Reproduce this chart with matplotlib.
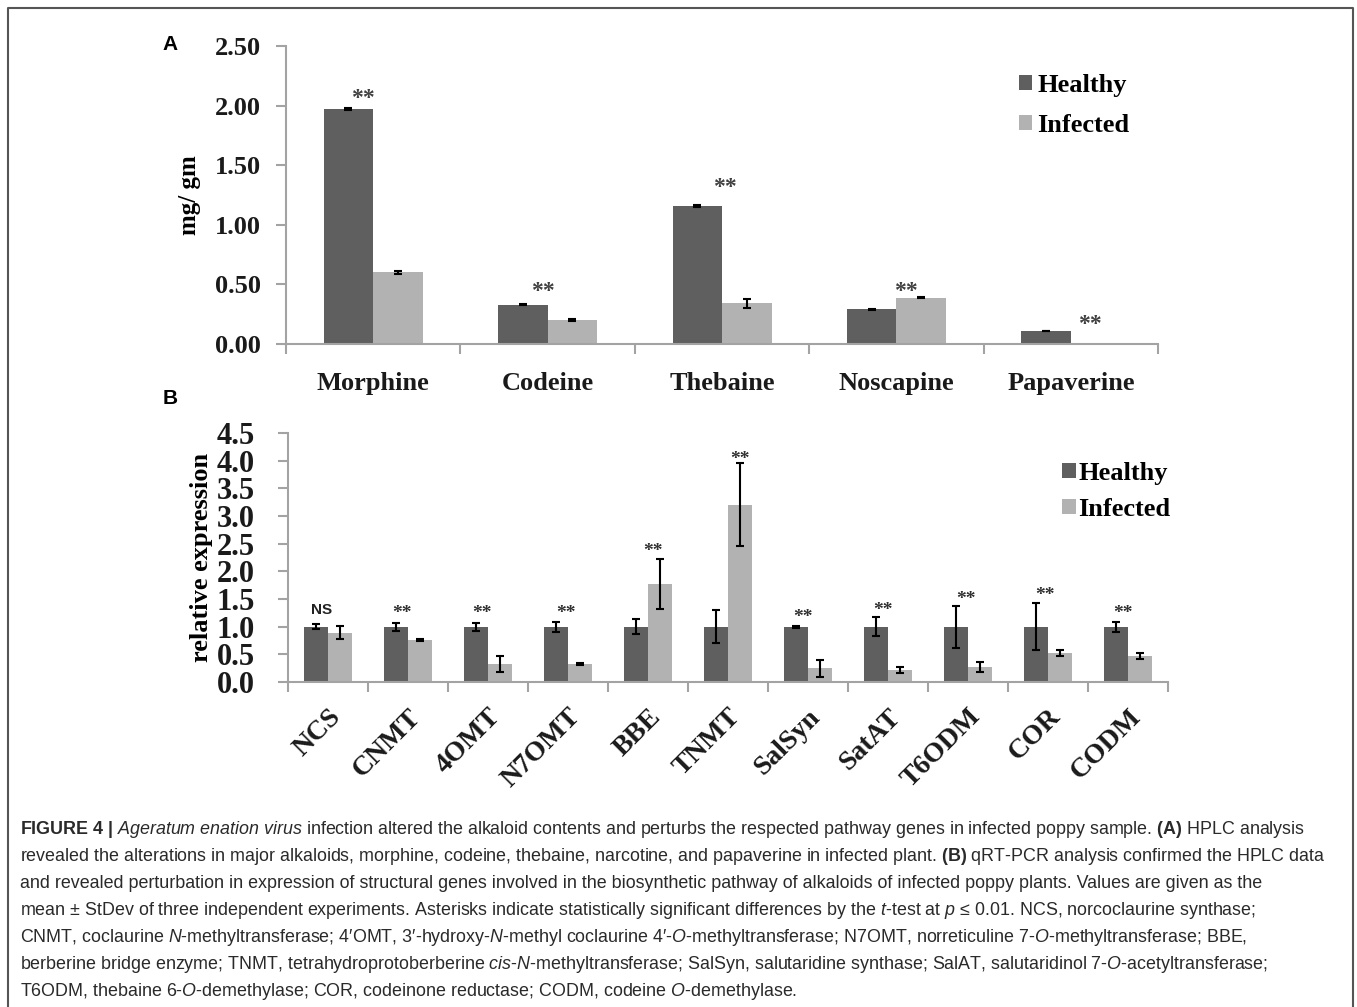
import matplotlib
matplotlib.use('Agg')
import matplotlib.pyplot as plt
import numpy as np
from matplotlib.lines import Line2D

plt.rcParams['mathtext.fontset'] = 'custom'
plt.rcParams['mathtext.rm'] = 'Liberation Sans'
plt.rcParams['mathtext.it'] = 'Liberation Sans:italic'
plt.rcParams['mathtext.bf'] = 'Liberation Sans:bold'

# Panel A data (HPLC, mg/gm)
alkaloids = ['Morphine', 'Codeine', 'Thebaine', 'Noscapine', 'Papaverine']
healthy_a = [1.97, 0.33, 1.16, 0.29, 0.11]
infected_a = [0.60, 0.20, 0.34, 0.39, 0.0]
healthy_a_err = [0.006, 0.003, 0.010, 0.004, 0.002]
infected_a_err = [0.012, 0.008, 0.035, 0.003, 0.0]
marks_a = ['**', '**', '**', '**', '**']

# Panel B data (qRT-PCR, relative expression)
genes = ['NCS', 'CNMT', '4OMT', 'N7OMT', 'BBE', 'TNMT', 'SalSyn', 'SatAT', 'T6ODM', 'COR', 'CODM']
healthy_b = [1.0, 1.0, 1.0, 1.0, 1.0, 1.0, 1.0, 1.0, 1.0, 1.0, 1.0]
healthy_b_err = [0.04, 0.07, 0.07, 0.09, 0.14, 0.30, 0.02, 0.17, 0.38, 0.42, 0.09]
infected_b = [0.89, 0.76, 0.33, 0.33, 1.77, 3.20, 0.25, 0.22, 0.27, 0.52, 0.47]
infected_b_err = [0.12, 0.01, 0.14, 0.02, 0.45, 0.75, 0.15, 0.05, 0.09, 0.05, 0.05]
marks_b = ['NS', '**', '**', '**', '**', '**', '**', '**', '**', '**', '**']

# annotation placement (layout only)
mark_a_dx = [-0.06, -0.03, 0.015, 0.055, 0.11]
mark_a_y = [2.06, 0.44, 1.31, 0.44, 0.16]
mark_b_dx = [-0.08, -0.07, -0.07, -0.03, 0.06, 0.15, -0.06, -0.06, -0.03, -0.04, -0.06]
mark_b_y = [1.30, 1.24, 1.24, 1.24, 2.36, 4.02, 1.16, 1.30, 1.50, 1.56, 1.24]

c_h = '#5f5f5f'
c_i = '#b2b2b2'
axis_c = '#a3a3a3'
serif = 'Liberation Serif'

fig = plt.figure(figsize=(13.57, 10.07), dpi=100)


def style_axes(ax, n, fs_tick, ypad):
    for s in ['top', 'right']:
        ax.spines[s].set_visible(False)
    for s in ['left', 'bottom']:
        ax.spines[s].set_color(axis_c)
        ax.spines[s].set_linewidth(1.5)
    ax.set_xlim(-0.5, n - 0.5)
    ax.set_xticks(np.arange(-0.5, n, 1), minor=True)
    ax.tick_params(axis='x', which='minor', length=7, width=1.5, color=axis_c, direction='out')
    ax.tick_params(axis='x', which='major', length=0)
    ax.tick_params(axis='y', length=7, width=1.5, color=axis_c, direction='out', pad=ypad)
    for lab in ax.get_yticklabels():
        lab.set_fontfamily(serif)
        lab.set_fontweight('bold')
        lab.set_fontsize(fs_tick)
        lab.set_color('#1a1a1a')


# ---------------- Panel A ----------------
axA = fig.add_axes([0.2108, 0.6584, 0.6426, 0.2959])
x = np.arange(len(alkaloids))
w = 0.284
axA.bar(x - w / 2, healthy_a, w, color=c_h, label='Healthy')
axA.bar(x + w / 2, infected_a, w, color=c_i, label='Infected')
axA.errorbar(x - w / 2, healthy_a, yerr=healthy_a_err, fmt='none', ecolor='black', elinewidth=1.5, capsize=3, capthick=1.5)
has_i = np.array(infected_a) > 0
axA.errorbar((x + w / 2)[has_i], np.array(infected_a)[has_i], yerr=np.array(infected_a_err)[has_i],
             fmt='none', ecolor='black', elinewidth=1.5, capsize=3, capthick=1.5)
axA.set_ylim(0, 2.5)
axA.set_yticks(np.arange(0, 2.51, 0.5))
axA.set_yticklabels(['%.2f' % v for v in np.arange(0, 2.51, 0.5)])
axA.set_xticks(x)
axA.set_xticklabels(alkaloids, fontfamily=serif, fontweight='bold', fontsize=19, color='#1a1a1a')
axA.tick_params(axis='x', which='major', pad=20)
style_axes(axA, len(alkaloids), 19, 11)
axA.set_ylabel('mg/ gm', fontfamily=serif, fontweight='bold', fontsize=18, labelpad=10)
for i, m in enumerate(marks_a):
    axA.text(x[i] + mark_a_dx[i], mark_a_y[i], m, ha='center', va='center',
             fontfamily=serif, fontweight='bold', fontsize=17, color='#404040')
axA.legend(loc='upper left', bbox_to_anchor=(0.84, 0.905), frameon=False,
           prop={'family': serif, 'weight': 'bold', 'size': 19},
           handlelength=0.5, handleheight=0.5, handletextpad=0.2, labelspacing=0.62,
           borderpad=0, borderaxespad=0)

# ---------------- Panel B ----------------
axB = fig.add_axes([0.2122, 0.3227, 0.6485, 0.2473])
xb = np.arange(len(genes))
wb = 0.3
axB.bar(xb - wb / 2, healthy_b, wb, color=c_h, label='Healthy')
axB.bar(xb + wb / 2, infected_b, wb, color=c_i, label='Infected')
axB.errorbar(xb - wb / 2, healthy_b, yerr=healthy_b_err, fmt='none', ecolor='black', elinewidth=1.5, capsize=3, capthick=1.5)
axB.errorbar(xb + wb / 2, infected_b, yerr=infected_b_err, fmt='none', ecolor='black', elinewidth=1.5, capsize=3, capthick=1.5)
axB.set_ylim(0, 4.5)
axB.set_yticks(np.arange(0, 4.51, 0.5))
axB.set_yticklabels(['%.1f' % v for v in np.arange(0, 4.51, 0.5)])
axB.set_xticks(xb)
axB.set_xticklabels(genes, fontfamily=serif, fontweight='bold', fontsize=20, color='#1a1a1a',
                    rotation=45, ha='right', rotation_mode='anchor')
axB.tick_params(axis='x', which='major', pad=16)
style_axes(axB, len(genes), 22, 17)
axB.set_ylabel('relative expression', fontfamily=serif, fontweight='bold', fontsize=19, labelpad=2)
for i, m in enumerate(marks_b):
    if m == 'NS':
        axB.text(xb[i] + mark_b_dx[i], mark_b_y[i], m, ha='center', va='center',
                 fontfamily='Liberation Sans', fontweight='bold', fontsize=11, color='#222222')
    else:
        axB.text(xb[i] + mark_b_dx[i], mark_b_y[i], m, ha='center', va='center',
                 fontfamily=serif, fontweight='bold', fontsize=14, color='#303030')
axB.legend(loc='upper left', bbox_to_anchor=(0.88, 0.885), frameon=False,
           prop={'family': serif, 'weight': 'bold', 'size': 19},
           handlelength=0.5, handleheight=0.5, handletextpad=0.1, labelspacing=0.5,
           borderpad=0, borderaxespad=0)

# panel letters
fig.text(170 / 1357, 1 - 45 / 1007, 'A', ha='center', va='center', fontfamily='Liberation Sans', fontweight='bold', fontsize=15)
fig.text(170 / 1357, 1 - 398 / 1007, 'B', ha='center', va='center', fontfamily='Liberation Sans', fontweight='bold', fontsize=15)

# frame
fig.add_artist(Line2D([8 / 1357, 8 / 1357, 1353 / 1357, 1353 / 1357],
                      [0, 1 - 8 / 1007, 1 - 8 / 1007, 0], transform=fig.transFigure,
                      color='#555555', lw=1.5))


def it(s):
    return r'$\it{' + s.replace(' ', r'\ ') + '}$'


def bf(s):
    return r'$\bf{' + s.replace(' ', r'\ ') + '}$'


caption = [
    bf('FIGURE 4 |') + ' ' + it('Ageratum enation virus') + ' infection altered the alkaloid contents and perturbs the respected pathway genes in infected poppy sample. ' + bf('(A)') + ' HPLC analysis',
    'revealed the alterations in major alkaloids, morphine, codeine, thebaine, narcotine, and papaverine in infected plant. ' + bf('(B)') + ' qRT-PCR analysis confirmed the HPLC data',
    'and revealed perturbation in expression of structural genes involved in the biosynthetic pathway of alkaloids of infected poppy plants. Values are given as the',
    'mean \u00b1 StDev of three independent experiments. Asterisks indicate statistically significant differences by the ' + it('t') + '-test at ' + it('p') + ' \u2264 0.01. NCS, norcoclaurine synthase;',
    'CNMT, coclaurine ' + it('N') + '-methyltransferase; 4\u2032OMT, 3\u2032-hydroxy-' + it('N') + '-methyl coclaurine 4\u2032-' + it('O') + '-methyltransferase; N7OMT, norreticuline 7-' + it('O') + '-methyltransferase; BBE,',
    'berberine bridge enzyme; TNMT, tetrahydroprotoberberine ' + it('cis') + '-' + it('N') + '-methyltransferase; SalSyn, salutaridine synthase; SalAT, salutaridinol 7-' + it('O') + '-acetyltransferase;',
    'T6ODM, thebaine 6-' + it('O') + '-demethylase; COR, codeinone reductase; CODM, codeine ' + it('O') + '-demethylase.',
]
for k, line in enumerate(caption):
    fig.text(20 / 1357, 1 - (834 + 27 * k) / 1007, line, ha='left', va='baseline',
             fontfamily='Liberation Sans', fontsize=12.85, color='#2a2a2a')

fig.savefig('out.png', dpi=100, facecolor='white')
